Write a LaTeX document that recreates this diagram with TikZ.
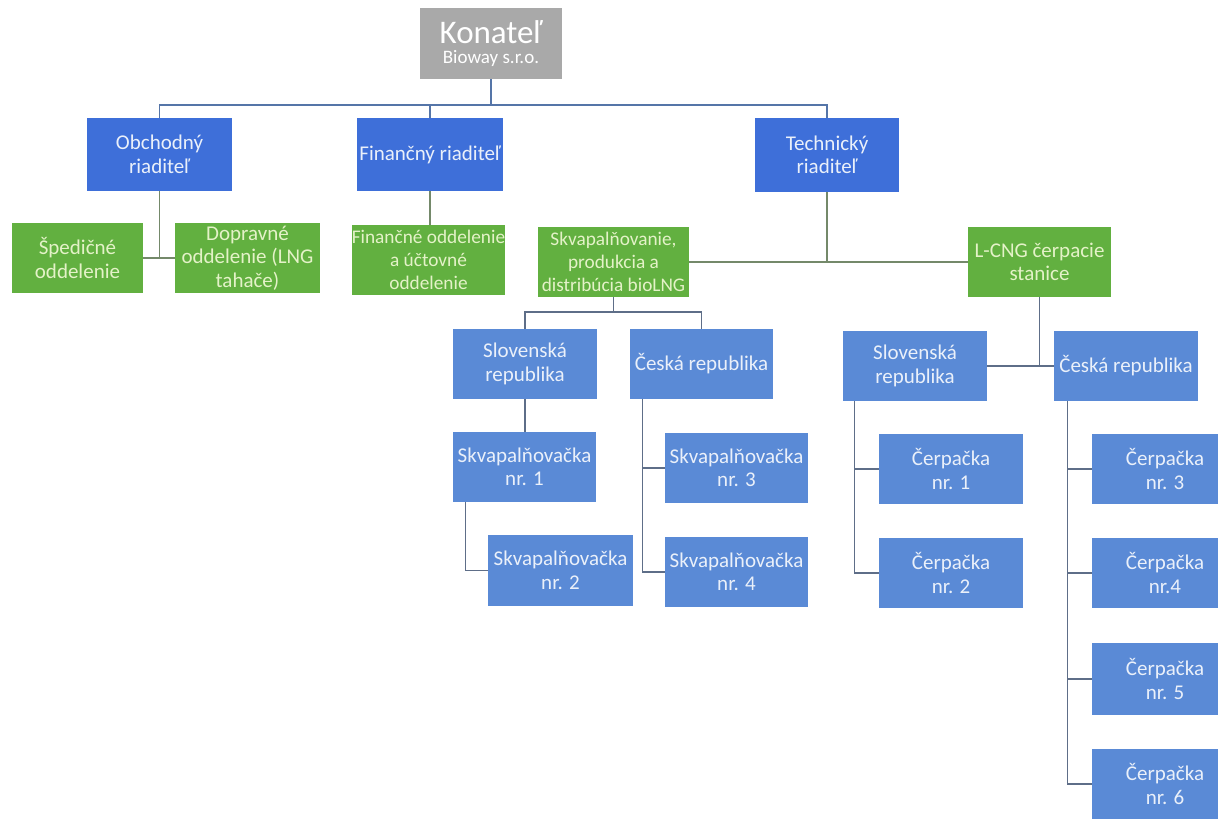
\documentclass[tikz,border=0pt]{standalone}
\usepackage{fontspec}
\setmainfont{Carlito}
\definecolor{greybox}{HTML}{A9A9A9}
\definecolor{topblue}{HTML}{3E6FD9}
\definecolor{lowblue}{HTML}{5A8AD6}
\definecolor{greenbox}{HTML}{62B040}
\definecolor{greentext}{HTML}{E4F2C8}
\definecolor{bluetext}{HTML}{EAF0FA}
\definecolor{busblue}{HTML}{5575A8}
\definecolor{greenline}{HTML}{74896A}
\definecolor{lowline}{HTML}{5E6E88}
\tikzset{
  box/.style={rectangle, inner sep=0pt, align=center, font=\fontsize{21}{23.5}\selectfont},
  topbox/.style={box, fill=topblue, text=bluetext, minimum width=145pt, minimum height=73pt},
  lowbox/.style={box, fill=lowblue, text=bluetext, minimum width=144pt, minimum height=70pt},
  grbox/.style={box, fill=greenbox, text=greentext, minimum height=70pt},
  narrowtext/.style={font=\fontsize{19.3}{23}\selectfont},
  busline/.style={draw=busblue, line width=1.6pt},
  grline/.style={draw=greenline, line width=1.3pt},
  lowline/.style={draw=lowline, line width=1.3pt}
}
\begin{document}
\begin{tikzpicture}[x=1pt,y=-1pt]
\useasboundingbox (0,0) rectangle (1218,820);
\clip (0,0) rectangle (1218,820);
\fill[white] (0,0) rectangle (1218,820);
% top
\node[box, fill=greybox, text=white, minimum width=142pt, minimum height=71pt] (kon) at (491,43.5)
  {{\fontsize{33}{34}\selectfont Konateľ}\\[-3pt]{\fontsize{19}{20}\selectfont Bioway s.r.o.}};
\node[topbox] (obch) at (159.5,154.5) {Obchodný\\riaditeľ};
\node[topbox, minimum width=146pt] (fin) at (430,154.5) {Finančný riaditeľ};
\node[topbox, minimum width=144pt, minimum height=74pt] (tech) at (827,155) {Technický\\riaditeľ};
% green
\node[grbox, minimum width=131pt] (sped) at (77.5,258) {Špedičné\\oddelenie};
\node[grbox, minimum width=145pt] (dop) at (247.5,258) {Dopravné\\oddelenie (LNG\\tahače)};
\node[grbox, narrowtext, minimum width=153pt] (finodd) at (428.5,260) {Finančné oddelenie\\a účtovné\\oddelenie};
\node[grbox, narrowtext, minimum width=151pt] (skv) at (613.5,262) {Skvapalňovanie,\\produkcia a\\distribúcia bioLNG};
\node[grbox, minimum width=143pt] (lcng) at (1039.5,262) {L-CNG čerpacie\\stanice};
% liquefaction branch
\node[lowbox] (sk1) at (525,364) {Slovenská\\republika};
\node[lowbox, minimum width=143pt] (cz1) at (701.5,364) {Česká republika};
\node[lowbox, minimum width=143pt] (skp1) at (524.5,467) {Skvapalňovačka\\nr. 1};
\node[lowbox, minimum width=145pt, minimum height=71pt] (skp2) at (560.5,570.5) {Skvapalňovačka\\nr. 2};
\node[lowbox, minimum width=143pt] (skp3) at (736.5,468) {Skvapalňovačka\\nr. 3};
\node[lowbox, minimum width=143pt] (skp4) at (736.5,572) {Skvapalňovačka\\nr. 4};
% stations branch
\node[lowbox] (sk2) at (915,366) {Slovenská\\republika};
\node[lowbox] (cz2) at (1126,366) {Česká republika};
\node[lowbox] (c1) at (951,469) {Čerpačka\\nr. 1};
\node[lowbox] (c2) at (951,573) {Čerpačka\\nr. 2};
\node[lowbox, minimum width=146pt] (c3) at (1165,469) {Čerpačka\\nr. 3};
\node[lowbox, minimum width=146pt] (c4) at (1165,573) {Čerpačka\\nr.4};
\node[lowbox, minimum width=146pt, minimum height=72pt] (c5) at (1165,679) {Čerpačka\\nr. 5};
\node[lowbox, minimum width=146pt] (c6) at (1165,784) {Čerpačka\\nr. 6};
% connectors
\coordinate (bus) at (0,105);
\draw[busline] (kon.south) -- (kon.south |- bus);
\draw[busline] (obch.north) -- (obch.north |- bus) -- (tech.north |- bus) -- (tech.north);
\draw[busline] (fin.north) -- (fin.north |- bus);
\draw[grline] (sped.east) -- (dop.west);
\draw[grline] (obch.south) -- (obch.south |- sped.east);
\draw[grline] (fin.south) -- (fin.south |- finodd.north);
\draw[grline] (skv.east) -- (lcng.west);
\draw[grline] (tech.south) -- (tech.south |- lcng.west);
\coordinate (bus2) at (0,312);
\draw[lowline] (skv.south) -- (skv.south |- bus2);
\draw[lowline] (sk1.north) -- (sk1.north |- bus2) -- (cz1.north |- bus2) -- (cz1.north);
\draw[lowline] (sk1.south) -- (sk1.south |- skp1.north);
\draw[lowline] ([xshift=13pt]skp1.south west) |- (skp2.west);
\draw[lowline] ([xshift=13pt]cz1.south west) |- (skp3.west);
\draw[lowline] ([xshift=13pt]cz1.south west) |- (skp4.west);
\draw[lowline] (sk2.east) -- (cz2.west);
\draw[lowline] (lcng.south) -- (lcng.south |- cz2.west);
\draw[lowline] ([xshift=12pt]sk2.south west) |- (c1.west);
\draw[lowline] ([xshift=12pt]sk2.south west) |- (c2.west);
\draw[lowline] ([xshift=14pt]cz2.south west) |- (c3.west);
\draw[lowline] ([xshift=14pt]cz2.south west) |- (c4.west);
\draw[lowline] ([xshift=14pt]cz2.south west) |- (c5.west);
\draw[lowline] ([xshift=14pt]cz2.south west) |- (c6.west);
\end{tikzpicture}
\end{document}
